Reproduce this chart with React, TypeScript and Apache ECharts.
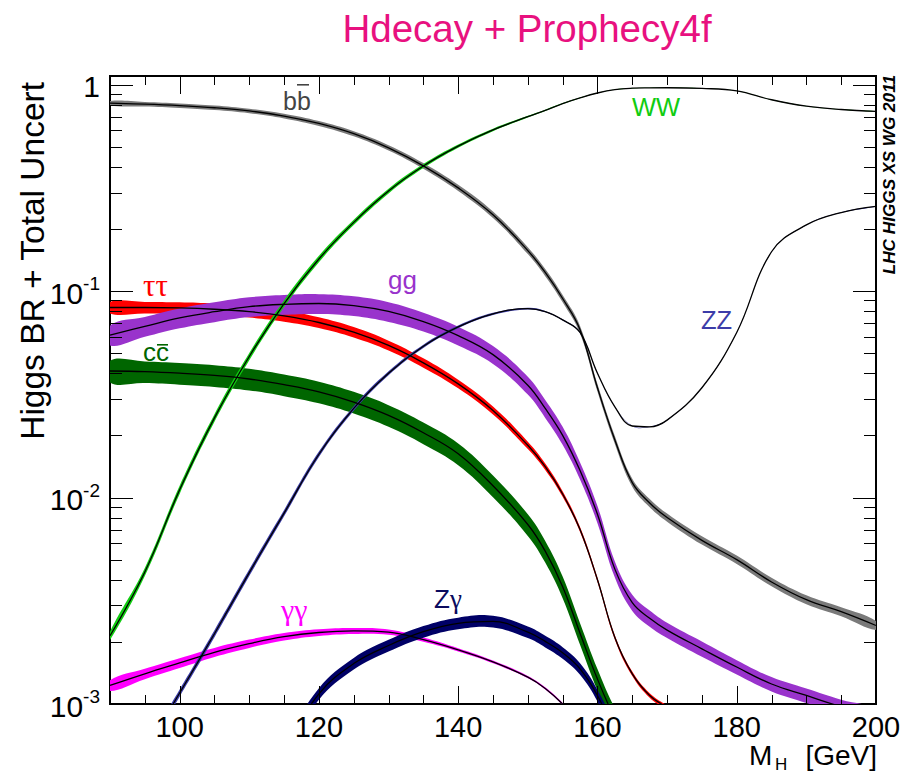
import { useEffect, useRef } from 'react';
import * as echarts from 'echarts';

// Higgs mass grid (GeV)
const MASS = [90, 95, 100, 105, 110, 115, 120, 125, 130, 135, 140, 145, 150, 152.5, 155, 157.5, 160, 162.5, 165, 167.5, 170, 175, 180, 185, 190, 195, 200];

// Branching ratios (central values)
const BR_BB = [0.812, 0.803, 0.79, 0.772, 0.745, 0.704, 0.648, 0.578, 0.494, 0.404, 0.316, 0.234, 0.157, 0.123, 0.092, 0.065, 0.034, 0.019, 0.0118, 0.0094, 0.008, 0.0062, 0.005, 0.0039, 0.0032, 0.0028, 0.0024];
const BR_WW = [0.00214, 0.00436, 0.0109, 0.0243, 0.0482, 0.087, 0.143, 0.215, 0.305, 0.403, 0.503, 0.603, 0.699, 0.75, 0.809, 0.862, 0.91, 0.945, 0.96, 0.964, 0.965, 0.958, 0.932, 0.844, 0.786, 0.757, 0.741];
const BR_ZZ = [0.00032, 0.00059, 0.00113, 0.00219, 0.00433, 0.0084, 0.0162, 0.027, 0.04, 0.054, 0.067, 0.0775, 0.0822, 0.0795, 0.0725, 0.063, 0.04, 0.0275, 0.0222, 0.022, 0.0237, 0.034, 0.063, 0.155, 0.209, 0.24, 0.257];
const BR_TAUTAU = [0.0832, 0.0832, 0.0828, 0.0816, 0.0795, 0.0758, 0.0704, 0.0632, 0.0545, 0.0449, 0.0355, 0.0264, 0.0179, 0.0141, 0.0104, 0.007, 0.004, 0.0021, 0.0014, 0.0011, 0.00096, 0.00075, null, null, null, null, null];
const BR_GG = [0.0612, 0.0674, 0.0741, 0.0794, 0.084, 0.0862, 0.087, 0.085, 0.0796, 0.0711, 0.0608, 0.0492, 0.035, 0.027, 0.02, 0.0135, 0.0083, 0.0045, 0.0031, 0.0026, 0.00228, 0.00185, 0.00151, 0.00125, 0.0011, 0.00097, 0.00087];
const BR_CC = [0.041, 0.0407, 0.04, 0.039, 0.0375, 0.0352, 0.0325, 0.029, 0.025, 0.0206, 0.0163, 0.0114, 0.0074, 0.0055, 0.0037, 0.0022, 0.00132, 0.00085, 0.0006, null, null, null, null, null, null, null, null];
const BR_GAMGAM = [0.00123, 0.0014, 0.00158, 0.00178, 0.00196, 0.00212, 0.00222, 0.00226, 0.00223, 0.00205, 0.00183, 0.0016, 0.00135, 0.00119, 0.001, 0.0008, 0.0006, null, null, null, null, null, null, null, null, null, null];
const BR_ZGAM = [null, null, null, null, 0.0003, 0.0006, 0.00112, 0.00157, 0.00192, 0.00224, 0.00246, 0.00251, 0.00223, 0.00201, 0.00177, 0.00148, 0.0011, 0.00072, null, null, null, null, null, null, null, null, null];

// Total relative uncertainties (half-width of band)
const UNC_BB = [0.025, 0.025, 0.025, 0.025, 0.025, 0.026, 0.027, 0.028, 0.03, 0.032, 0.034, 0.036, 0.038, 0.04, 0.04, 0.042, 0.042, 0.044, 0.044, 0.045, 0.045, 0.046, 0.047, 0.048, 0.05, 0.05, 0.05];
const UNC_WW = [0.045, 0.045, 0.045, 0.042, 0.04, 0.038, 0.035, 0.03, 0.026, 0.022, 0.018, 0.014, 0.01, 0.008, 0.006, 0.004, 0.003, 0.002, 0.002, 0.002, 0.002, 0.002, 0.002, 0.002, 0.002, 0.002, 0.002];
const UNC_ZZ = [0.04, 0.04, 0.04, 0.04, 0.038, 0.035, 0.03, 0.026, 0.022, 0.018, 0.015, 0.012, 0.01, 0.008, 0.006, 0.005, 0.004, 0.003, 0.003, 0.003, 0.003, 0.003, 0.003, 0.003, 0.003, 0.003, 0.003];
const UNC_TAUTAU = [0.065, 0.065, 0.065, 0.065, 0.064, 0.063, 0.06, 0.058, 0.055, 0.052, 0.048, 0.045, 0.04, 0.035, 0.03, 0.027, 0.025, 0.025, 0.025, 0.025, 0.025, 0.025, 0.025, 0.025, 0.025, 0.025, 0.025];
const UNC_GG = [0.11, 0.11, 0.11, 0.11, 0.11, 0.11, 0.11, 0.11, 0.11, 0.105, 0.105, 0.1, 0.1, 0.1, 0.1, 0.095, 0.095, 0.09, 0.09, 0.09, 0.085, 0.085, 0.08, 0.08, 0.08, 0.08, 0.08];
const UNC_CC = [0.12, 0.12, 0.12, 0.12, 0.12, 0.12, 0.12, 0.12, 0.12, 0.12, 0.12, 0.12, 0.12, 0.12, 0.12, 0.12, 0.12, 0.12, 0.12, 0.12, 0.12, 0.12, 0.12, 0.12, 0.12, 0.12, 0.12];
const UNC_GAMGAM = [0.06, 0.058, 0.055, 0.05, 0.046, 0.042, 0.038, 0.034, 0.03, 0.024, 0.018, 0.015, 0.013, 0.012, 0.012, 0.012, 0.012, 0.012, 0.012, 0.012, 0.012, 0.012, 0.012, 0.012, 0.012, 0.012, 0.012];
const UNC_ZGAM = [0.065, 0.065, 0.065, 0.065, 0.065, 0.065, 0.065, 0.065, 0.065, 0.065, 0.065, 0.065, 0.065, 0.065, 0.065, 0.065, 0.065, 0.065, 0.065, 0.065, 0.065, 0.065, 0.065, 0.065, 0.065, 0.065, 0.065];

// Axes
const X_MIN = 90;
const X_MAX = 200;
const X_LABEL_STEP = 20;
const X_TICK_STEP = 5;
const Y_MIN = 0.001;
const Y_MAX = 1.1;
const Y_DECADES = [-3, -2, -1, 0];

const SMOOTH = 0.4;

const CHANNELS = [
  { key: 'bb', br: BR_BB, unc: UNC_BB, color: '#7a7a7a' },
  { key: 'tautau', br: BR_TAUTAU, unc: UNC_TAUTAU, color: '#ff0000' },
  { key: 'gg', br: BR_GG, unc: UNC_GG, color: '#9933cc' },
  { key: 'cc', br: BR_CC, unc: UNC_CC, color: '#006600' },
  { key: 'gamgam', br: BR_GAMGAM, unc: UNC_GAMGAM, color: '#ff00ff' },
  { key: 'Zgam', br: BR_ZGAM, unc: UNC_ZGAM, color: '#000066' },
  { key: 'ZZ', br: BR_ZZ, unc: UNC_ZZ, color: '#3c3ca8' },
  { key: 'WW', br: BR_WW, unc: UNC_WW, color: '#11cc11' },
];

const SANS = '"Liberation Sans", Arial, Helvetica, sans-serif';
const SERIF = '"Liberation Serif", "DejaVu Serif", serif';

function buildTickData() {
  const d: number[][] = [];
  for (let m = X_MIN + X_TICK_STEP; m < X_MAX; m += X_TICK_STEP) {
    d.push([m, Y_MIN, 0, m % X_LABEL_STEP === 0 ? 1 : 0]);
  }
  for (const e of Y_DECADES) {
    for (let k = 1; k <= 9; k++) {
      const v = k * Math.pow(10, e);
      if (v <= Y_MIN * 1.0001 || v > Y_MAX) continue;
      d.push([X_MIN, v, 1, k === 1 ? 1 : 0]);
    }
  }
  return d;
}

function bandSeries(ch: any) {
  const first = ch.br.findIndex((v: any) => v != null);
  return {
    type: 'custom',
    name: ch.key + '_band',
    z: 2,
    clip: true,
    silent: true,
    data: [[MASS[first], ch.br[first]]],
    encode: { x: 0, y: 1 },
    renderItem: (params: any, api: any) => {
      const up: number[][] = [];
      const lo: number[][] = [];
      for (let i = 0; i < MASS.length; i++) {
        const v = ch.br[i];
        if (v == null) continue;
        up.push(api.coord([MASS[i], v * (1 + ch.unc[i])]));
        lo.push(api.coord([MASS[i], v * (1 - ch.unc[i])]));
      }
      const pts = up.concat(lo.reverse());
      return {
        type: 'polygon',
        shape: { points: pts, smooth: SMOOTH },
        style: { fill: ch.color, stroke: 'none' },
      };
    },
  };
}

function lineSeries(ch: any) {
  return {
    type: 'line',
    name: ch.key,
    z: 3,
    silent: true,
    showSymbol: false,
    smooth: SMOOTH,
    clip: true,
    connectNulls: false,
    data: MASS.map((m, i) => [m, ch.br[i] == null ? '-' : ch.br[i]]),
    lineStyle: { color: '#000', width: 1.3 },
  };
}

export default function App() {
  const ref = useRef<HTMLDivElement>(null);
  useEffect(() => {
    if (!ref.current) return;
    const chart = echarts.init(ref.current, null, { renderer: 'svg' });
    const tickData = buildTickData();
    const option: any = {
      animation: false,
      backgroundColor: '#fff',
      grid: { left: 110, top: 76, width: 766, height: 628, show: true, borderColor: '#000', borderWidth: 2, backgroundColor: 'transparent' },
      xAxis: {
        type: 'value', min: X_MIN, max: X_MAX, interval: 10,
        axisLine: { show: false }, axisTick: { show: false }, splitLine: { show: false },
        axisLabel: {
          showMinLabel: true, showMaxLabel: true, margin: 10,
          fontFamily: SANS, fontSize: 29, color: '#000', lineHeight: 26,
          formatter: (v: number) => (v % X_LABEL_STEP === 0 ? String(v) : ''),
        },
      },
      yAxis: {
        type: 'log', logBase: 10, min: Y_MIN, max: Y_MAX,
        axisLine: { show: false }, axisTick: { show: false }, splitLine: { show: false },
        axisLabel: {
          margin: 10, showMinLabel: true, showMaxLabel: true,
          formatter: (v: number) => {
            const l = Math.log10(v);
            const e = Math.round(l);
            if (Math.abs(l - e) > 1e-6) return '';
            if (e === 0) return '{b|1}';
            return '{b|10}{s|' + e + '}';
          },
          rich: {
            b: { fontFamily: SANS, fontSize: 30, color: '#000', lineHeight: 34, verticalAlign: 'bottom' },
            s: { fontFamily: SANS, fontSize: 19, color: '#000', lineHeight: 34, verticalAlign: 'top' },
          },
        },
      },
      series: [
        ...CHANNELS.map(bandSeries),
        ...CHANNELS.map(lineSeries),
        {
          type: 'custom',
          name: 'ticks',
          z: 10,
          silent: true,
          clip: false,
          data: tickData,
          encode: { x: 0, y: 1 },
          renderItem: (params: any, api: any) => {
            const cs = params.coordSys;
            const kind = api.value(2);
            const major = api.value(3);
            const st = { stroke: '#000', lineWidth: 1 };
            if (kind === 0) {
              const p = api.coord([api.value(0), Y_MIN]);
              const len = major ? 18 : 9;
              const x = Math.round(p[0]) + 0.5;
              const b = cs.y + cs.height;
              return {
                type: 'group', children: [
                  { type: 'line', shape: { x1: x, y1: b, x2: x, y2: b - len }, style: st },
                  { type: 'line', shape: { x1: x, y1: cs.y, x2: x, y2: cs.y + len }, style: st },
                ],
              };
            }
            const p = api.coord([X_MIN, api.value(1)]);
            const len = major ? 23 : 12;
            const y = Math.round(p[1]) + 0.5;
            const r = cs.x + cs.width;
            return {
              type: 'group', children: [
                { type: 'line', shape: { x1: cs.x, y1: y, x2: cs.x + len, y2: y }, style: st },
                { type: 'line', shape: { x1: r, y1: y, x2: r - len, y2: y }, style: st },
              ],
            };
          },
        },
      ],
      graphic: [
        { type: 'text', x: 527, y: 28, style: { text: 'Hdecay + Prophecy4f', fontFamily: SANS, fontSize: 38.5, fill: '#e8117f', align: 'center', verticalAlign: 'middle' } },
        { type: 'text', x: 32, y: 82, rotation: Math.PI / 2, style: { text: 'Higgs BR + Total Uncert', fontFamily: SANS, fontSize: 33.5, fill: '#000', align: 'right', verticalAlign: 'middle' } },
        { type: 'text', x: 889, y: 75, rotation: Math.PI / 2, style: { text: 'LHC HIGGS XS WG 2011', fontFamily: SANS, fontSize: 17.2, fontWeight: 'bold', fontStyle: 'italic', fill: '#000', align: 'right', verticalAlign: 'middle' } },
        { type: 'text', x: 749, y: 755.5, style: { text: 'M', fontFamily: SANS, fontSize: 28, lineHeight: 22, fill: '#000', align: 'left', verticalAlign: 'middle' } },
        { type: 'text', x: 775, y: 764, style: { text: 'H', fontFamily: SANS, fontSize: 17, lineHeight: 15, fill: '#000', align: 'left', verticalAlign: 'middle' } },
        { type: 'text', x: 877, y: 755.5, style: { text: '[GeV]', fontFamily: SANS, fontSize: 28, lineHeight: 22, fill: '#000', align: 'right', verticalAlign: 'middle' } },
        // curve labels
        { type: 'text', x: 283, y: 101, style: { text: 'bb', fontFamily: SANS, fontSize: 25, fill: '#444444', align: 'left', verticalAlign: 'middle' } },
        { type: 'rect', shape: { x: 297, y: 84, width: 12, height: 1.6 }, style: { fill: '#444444' } },
        { type: 'text', x: 632, y: 107, style: { text: 'WW', fontFamily: SANS, fontSize: 25.5, fill: '#11cc11', align: 'left', verticalAlign: 'middle' } },
        { type: 'text', x: 701, y: 320, style: { text: 'ZZ', fontFamily: SANS, fontSize: 25.5, fill: '#3c3ca8', align: 'left', verticalAlign: 'middle' } },
        { type: 'text', x: 388, y: 280, style: { text: 'gg', fontFamily: SANS, fontSize: 26, fill: '#9933cc', align: 'left', verticalAlign: 'middle' } },
        { type: 'text', x: 143, y: 285, style: { text: 'ττ', fontFamily: SERIF, fontSize: 31, fill: '#ff0000', align: 'left', verticalAlign: 'middle' } },
        { type: 'text', x: 143, y: 352, style: { text: 'cc', fontFamily: SANS, fontSize: 26, fill: '#006600', align: 'left', verticalAlign: 'middle' } },
        { type: 'rect', shape: { x: 157, y: 344, width: 11, height: 1.6 }, style: { fill: '#006600' } },
        { type: 'text', x: 281, y: 609, style: { text: 'γγ', fontFamily: SERIF, fontSize: 30, fill: '#ff00ff', align: 'left', verticalAlign: 'middle' } },
        { type: 'text', x: 434, y: 599, style: { text: '{z|Z}{g|γ}', fontFamily: SANS, fontSize: 26, fill: '#0b0b5e', align: 'left', verticalAlign: 'middle', rich: { z: { fontFamily: SANS, fontSize: 26, fill: '#0b0b5e' }, g: { fontFamily: SERIF, fontSize: 27, fill: '#0b0b5e' } } } },
      ],
    };
    chart.setOption(option);
    return () => chart.dispose();
  }, []);
  return <div ref={ref} style={{ position: 'fixed', left: 0, top: 0, width: 915, height: 774, background: '#fff' }} />;
}
